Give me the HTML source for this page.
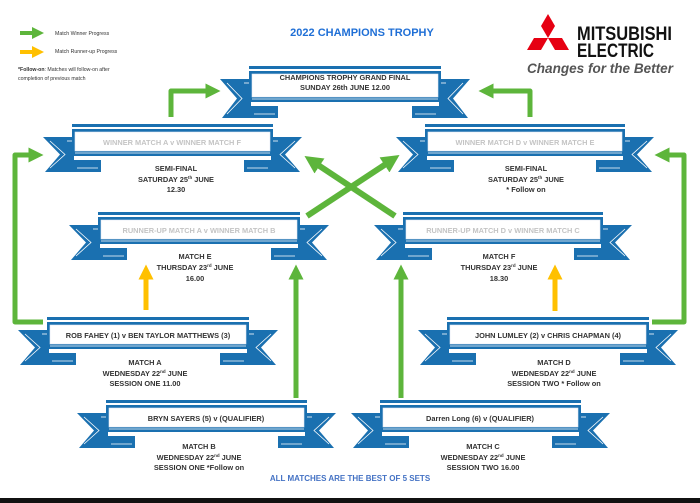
<!DOCTYPE html>
<html><head><meta charset="utf-8"><style>
html,body{margin:0;padding:0;background:#fff;}
svg{display:block;font-family:"Liberation Sans",sans-serif;}
.t{font-size:7.4px;font-weight:bold;fill:#333;text-anchor:middle;}
.g{font-size:7.4px;font-weight:bold;fill:#c4c4c4;text-anchor:middle;}
.s{font-size:5.2px;fill:#333;}
</style></head><body>
<svg id="s" width="700" height="503" viewBox="0 0 700 503" xmlns="http://www.w3.org/2000/svg">
<defs>
<marker id="ag" viewBox="0 0 10 10" refX="5" refY="5" markerWidth="3" markerHeight="3" orient="auto"><path d="M0,0L10,5L0,10z" fill="#5db53b"/></marker>
<marker id="ay" viewBox="0 0 10 10" refX="5" refY="5" markerWidth="3" markerHeight="3" orient="auto"><path d="M0,0L10,5L0,10z" fill="#ffc000"/></marker>
</defs>
<g id="banners"></g>
<!-- connectors -->
<g fill="none" stroke-width="5" stroke-linejoin="round">
<path d="M43,322 H15 V155 H36" stroke="#5db53b" marker-end="url(#ag)"/>
<path d="M652,322 H684 V155 H662" stroke="#5db53b" marker-end="url(#ag)"/>
<path d="M171,117 V91 H213" stroke="#5db53b" marker-end="url(#ag)"/>
<path d="M530,117 V91 H486" stroke="#5db53b" marker-end="url(#ag)"/>
<path d="M395,216 L312,161" stroke="#5db53b" stroke-width="6" marker-end="url(#ag)"/>
<path d="M307,216 L392,160" stroke="#5db53b" stroke-width="6" marker-end="url(#ag)"/>
<path d="M296,398 V272" stroke="#5db53b" marker-end="url(#ag)"/>
<path d="M401,398 V272" stroke="#5db53b" marker-end="url(#ag)"/>
<path d="M146,310 V272" stroke="#ffc000" marker-end="url(#ay)"/>
<path d="M555,311 V272" stroke="#ffc000" marker-end="url(#ay)"/>
<path d="M20,33 H38" stroke="#5db53b" stroke-width="4" marker-end="url(#ag)"/>
<path d="M20,52 H38" stroke="#ffc000" stroke-width="4" marker-end="url(#ay)"/>
</g>
<!-- legend -->
<text class="s" x="55" y="35">Match Winner Progress</text>
<text class="s" x="55" y="53">Match Runner-up Progress</text>
<text class="s" x="18" y="71"><tspan font-weight="bold">*Follow-on</tspan>: Matches will follow-on after</text>
<text class="s" x="18" y="80">completion of previous match</text>
<!-- title -->
<text x="362" y="36" font-size="11" font-weight="bold" fill="#1f6fd6" text-anchor="middle">2022 CHAMPIONS TROPHY</text>
<!-- logo -->
<g fill="#e60012">
<path d="M548,14 L555,26 L548,38 L541,26z"/>
<path d="M548,38 L562,38 L569,50 L555,50z"/>
<path d="M548,38 L534,38 L527,50 L541,50z"/>
</g>
<text x="577" y="40" font-size="19" font-weight="bold" fill="#111" textLength="95" lengthAdjust="spacingAndGlyphs">MITSUBISHI</text>
<text x="577" y="57" font-size="19" font-weight="bold" fill="#111" textLength="77" lengthAdjust="spacingAndGlyphs">ELECTRIC</text>
<text x="527" y="73" font-size="13.5" font-weight="bold" font-style="italic" fill="#555" textLength="146" lengthAdjust="spacingAndGlyphs">Changes for the Better</text>
<!-- banner texts -->
<text class="t" x="345" y="80">CHAMPIONS TROPHY GRAND FINAL</text>
<text class="t" x="345" y="90">SUNDAY 26th JUNE 12.00</text>
<text class="g" x="172" y="145">WINNER MATCH A v WINNER MATCH F</text>
<text class="g" x="525" y="145">WINNER MATCH D v WINNER MATCH E</text>
<text class="g" x="199" y="233">RUNNER-UP MATCH A v WINNER MATCH B</text>
<text class="g" x="503" y="233">RUNNER-UP MATCH D v WINNER MATCH C</text>
<text class="t" x="148" y="338">ROB FAHEY (1) v BEN TAYLOR MATTHEWS (3)</text>
<text class="t" x="548" y="338">JOHN LUMLEY (2) v CHRIS CHAPMAN (4)</text>
<text class="t" x="206" y="421">BRYN SAYERS (5) v (QUALIFIER)</text>
<text class="t" x="480" y="421">Darren Long (6) v (QUALIFIER)</text>
<!-- under texts -->
<g class="t">
<text class="t" x="176" y="171">SEMI-FINAL</text>
<text class="t" x="176" y="182">SATURDAY 25<tspan font-size="4.5" dy="-3">th</tspan><tspan dy="3"> JUNE</tspan></text>
<text class="t" x="176" y="192">12.30</text>
<text class="t" x="526" y="171">SEMI-FINAL</text>
<text class="t" x="526" y="182">SATURDAY 25<tspan font-size="4.5" dy="-3">th</tspan><tspan dy="3"> JUNE</tspan></text>
<text class="t" x="526" y="192">* Follow on</text>
<text class="t" x="195" y="259">MATCH E</text>
<text class="t" x="195" y="270">THURSDAY 23<tspan font-size="4.5" dy="-3">rd</tspan><tspan dy="3"> JUNE</tspan></text>
<text class="t" x="195" y="281">16.00</text>
<text class="t" x="499" y="259">MATCH F</text>
<text class="t" x="499" y="270">THURSDAY 23<tspan font-size="4.5" dy="-3">rd</tspan><tspan dy="3"> JUNE</tspan></text>
<text class="t" x="499" y="281">18.30</text>
<text class="t" x="145" y="365">MATCH A</text>
<text class="t" x="145" y="376">WEDNESDAY 22<tspan font-size="4.5" dy="-3">nd</tspan><tspan dy="3"> JUNE</tspan></text>
<text class="t" x="145" y="386">SESSION ONE 11.00</text>
<text class="t" x="554" y="365">MATCH D</text>
<text class="t" x="554" y="376">WEDNESDAY 22<tspan font-size="4.5" dy="-3">nd</tspan><tspan dy="3"> JUNE</tspan></text>
<text class="t" x="554" y="386">SESSION TWO * Follow on</text>
<text class="t" x="199" y="449">MATCH B</text>
<text class="t" x="199" y="460">WEDNESDAY 22<tspan font-size="4.5" dy="-3">nd</tspan><tspan dy="3"> JUNE</tspan></text>
<text class="t" x="199" y="470">SESSION ONE *Follow on</text>
<text class="t" x="483" y="449">MATCH C</text>
<text class="t" x="483" y="460">WEDNESDAY 22<tspan font-size="4.5" dy="-3">nd</tspan><tspan dy="3"> JUNE</tspan></text>
<text class="t" x="483" y="470">SESSION TWO 16.00</text>
</g>
<text x="350" y="481" font-size="8" font-weight="bold" fill="#4472c4" text-anchor="middle">ALL MATCHES ARE THE BEST OF 5 SETS</text>
<rect x="0" y="498" width="700" height="5" fill="#111"/>
</svg>
<script>
(function(){
var B="#1a70b0",g=document.getElementById("banners"),h="";
function tail(L,T,bb,d){ // d=1 left, -1 right
  var x=function(v){return L+d*v;};
  var top=T+13,bot=bb+16,mid=(top+bot)/2;
  h+='<polygon fill="'+B+'" points="'+x(-29)+','+top+' '+x(2)+','+top+' '+x(2)+','+(bb+4)+' '+x(29)+','+(bb+4)+' '+x(29)+','+bot+' '+x(-27)+','+bot+' '+x(-12)+','+mid+'"/>';
  h+='<polyline fill="none" stroke="#fff" stroke-width="0.8" points="'+x(-22)+','+(top+4)+' '+x(-7)+','+mid+' '+x(-22)+','+(bot-4)+'"/>';
  h+='<line stroke="#fff" stroke-width="0.8" x1="'+x(-5)+'" y1="'+(top+4)+'" x2="'+x(0)+'" y2="'+(top+4)+'"/>';
  h+='<line stroke="#fff" stroke-width="0.8" x1="'+x(5)+'" y1="'+(bot-4)+'" x2="'+x(26)+'" y2="'+(bot-4)+'"/>';
}
function b(L,R,T,bh){
  var bb=T+bh+13;
  tail(L,T,bb,1);tail(R,T,bb,-1);
  h+='<rect fill="'+B+'" x="'+L+'" y="'+T+'" width="'+(R-L)+'" height="3"/>';
  h+='<rect fill="'+B+'" x="'+L+'" y="'+(T+5)+'" width="'+(R-L)+'" height="'+(bh+8)+'"/>';
  h+='<rect fill="#fff" stroke="#dfe9f3" stroke-width="0.6" x="'+(L+3)+'" y="'+(T+8)+'" width="'+(R-L-6)+'" height="'+bh+'"/>';
  h+='<line stroke="#fff" stroke-width="0.8" x1="'+(L+3)+'" y1="'+(T+bh+10)+'" x2="'+(R-3)+'" y2="'+(T+bh+10)+'"/>';
}
b(249,441,66,23);
b(72,273,124,19);b(425,625,124,19);
b(98,300,212,19);b(403,603,212,19);
b(47,249,317,19);b(447,649,317,19);
b(106,307,400,19);b(380,581,400,19);
g.innerHTML=h;
})();
</script>
</body></html>
